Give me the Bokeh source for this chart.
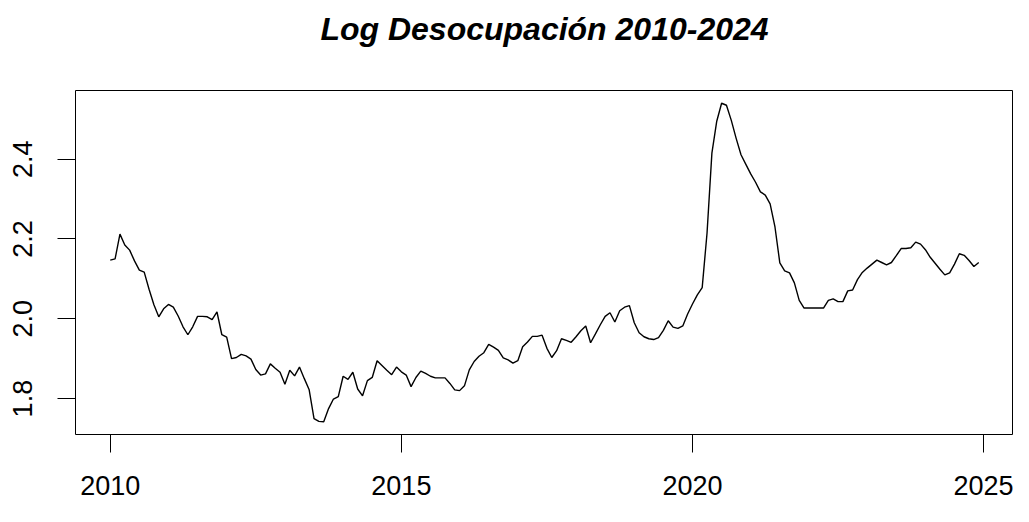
from bokeh.plotting import figure
from bokeh.models import Range1d, FixedTicker
from bokeh.embed import file_html
from bokeh.resources import INLINE

# Monthly log unemployment, Jan 2010 - Dec 2024
start_year = 2010
v2010 = [2.147, 2.150, 2.212, 2.185, 2.172, 2.145, 2.122, 2.117, 2.074, 2.035, 2.005, 2.025]
v2011 = [2.036, 2.029, 2.007, 1.980, 1.960, 1.980, 2.006, 2.006, 2.005, 1.998, 2.017, 1.960]
v2012 = [1.954, 1.900, 1.903, 1.911, 1.907, 1.899, 1.873, 1.859, 1.862, 1.887, 1.876, 1.866]
v2013 = [1.836, 1.871, 1.857, 1.879, 1.850, 1.822, 1.750, 1.743, 1.742, 1.775, 1.799, 1.805]
v2014 = [1.856, 1.848, 1.866, 1.824, 1.807, 1.845, 1.853, 1.895, 1.883, 1.871, 1.860, 1.879]
v2015 = [1.867, 1.859, 1.830, 1.853, 1.869, 1.863, 1.856, 1.852, 1.852, 1.852, 1.838, 1.822]
v2016 = [1.820, 1.832, 1.872, 1.893, 1.906, 1.915, 1.936, 1.929, 1.921, 1.902, 1.897, 1.889]
v2017 = [1.895, 1.930, 1.942, 1.956, 1.956, 1.959, 1.926, 1.903, 1.920, 1.950, 1.946, 1.941]
v2018 = [1.955, 1.970, 1.982, 1.940, 1.962, 1.985, 2.006, 2.015, 1.992, 2.020, 2.029, 2.033]
v2019 = [1.990, 1.965, 1.955, 1.950, 1.948, 1.953, 1.971, 1.995, 1.979, 1.976, 1.982, 2.012]
v2020 = [2.037, 2.060, 2.078, 2.215, 2.415, 2.495, 2.540, 2.535, 2.497, 2.452, 2.411, 2.387]
v2021 = [2.363, 2.342, 2.318, 2.310, 2.288, 2.230, 2.140, 2.120, 2.115, 2.090, 2.046, 2.027]
v2022 = [2.027, 2.027, 2.027, 2.027, 2.046, 2.050, 2.043, 2.043, 2.070, 2.072, 2.098, 2.116]
v2023 = [2.127, 2.137, 2.147, 2.141, 2.135, 2.141, 2.158, 2.176, 2.176, 2.178, 2.192, 2.187]
v2024 = [2.173, 2.154, 2.139, 2.124, 2.110, 2.115, 2.137, 2.163, 2.159, 2.146, 2.131, 2.141]

x_ticks = [2010, 2015, 2020, 2025]
x_tick_labels = ["2010", "2015", "2020", "2025"]
y_ticks = [1.8, 2.0, 2.2, 2.4]
y_tick_labels = ["1.8", "2.0", "2.2", "2.4"]
title_text = "Log Desocupación 2010-2024"

values = (v2010 + v2011 + v2012 + v2013 + v2014 + v2015 + v2016 + v2017
          + v2018 + v2019 + v2020 + v2021 + v2022 + v2023 + v2024)
times = [start_year + i / 12 for i in range(len(values))]

# R-style 4% range extension
tx0, tx1 = min(times), max(times)
vy0, vy1 = min(values), max(values)
ex = 0.04 * (tx1 - tx0)
ey = 0.04 * (vy1 - vy0)
xr = Range1d(tx0 - ex, tx1 + ex)
yr = Range1d(vy0 - ey, vy1 + ey)

FONT = "Liberation Sans"

p = figure(width=1013, height=506, x_range=xr, y_range=yr,
           output_backend="svg", toolbar_location=None,
           min_border_left=75, min_border_right=0,
           min_border_top=90, min_border_bottom=72)
p.background_fill_color = "white"
p.border_fill_color = "white"
p.outline_line_color = "black"
p.outline_line_width = 1
p.xgrid.visible = False
p.ygrid.visible = False

p.title.text = title_text
p.title.align = "center"
p.title.text_font = FONT
p.title.text_font_size = "32px"
p.title.text_font_style = "bold italic"
p.title.text_color = "black"
p.title.standoff = 0
p.title.padding = (0, 0, 0, 44)

p.line(times, values, line_color="black", line_width=1.4)

for ax in (p.xaxis[0], p.yaxis[0]):
    ax.axis_line_color = None
    ax.major_tick_line_color = "black"
    ax.major_tick_line_width = 1
    ax.major_tick_in = 0
    ax.major_tick_out = 18
    ax.minor_tick_line_color = None
    ax.major_label_text_font = FONT
    ax.major_label_text_font_size = "27px"
    ax.major_label_text_color = "black"

p.xaxis[0].ticker = FixedTicker(ticks=x_ticks)
p.xaxis[0].major_label_overrides = {t: s for t, s in zip(x_ticks, x_tick_labels)}
p.xaxis[0].major_label_standoff = 23

p.yaxis[0].ticker = FixedTicker(ticks=y_ticks)
p.yaxis[0].major_label_overrides = {t: s for t, s in zip(y_ticks, y_tick_labels)}
p.yaxis[0].major_label_orientation = "vertical"
p.yaxis[0].major_label_standoff = 25

open("out.html", "w").write(file_html(p, INLINE))
